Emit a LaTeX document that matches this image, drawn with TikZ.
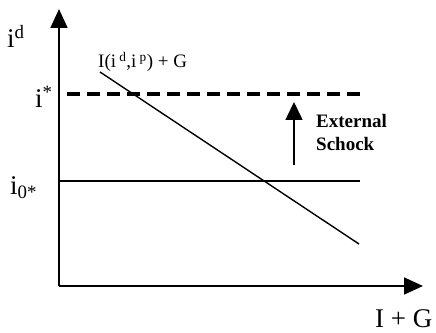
\documentclass[tikz,border=0pt]{standalone}
\usepackage{fontspec}
\setmainfont{Liberation Serif}
\usetikzlibrary{arrows.meta,positioning}

\begin{document}
\begin{tikzpicture}[x=1pt,y=1pt,
  axis/.style={line width=1.8pt,-{Triangle[length=19pt,width=17pt]}},
  curve/.style={line width=1.4pt},
  lbl/.style={inner sep=0pt,anchor=base west,font=\fontsize{27}{30}\selectfont}]
  \useasboundingbox (0,0) rectangle (436,332);
  \coordinate (O) at (59,46);
  \coordinate (ytop) at (59,323);
  \coordinate (xend) at (423,46);
  \draw[axis] (O) -- (ytop);
  \draw[axis] (O) -- (xend);
  \coordinate (star0) at (67,238);
  \coordinate (star1) at (360,238);
  \draw[line width=4pt,dash pattern=on 13pt off 7pt] (star0) -- (star1);
  \coordinate (low0) at (59,151);
  \coordinate (low1) at (360,151);
  \draw[curve] (low0) -- (low1);
  \coordinate (is0) at (100,260);
  \coordinate (is1) at (359,88);
  \draw[curve] (is0) -- (is1);
  \coordinate (sh0) at (294,167);
  \coordinate (sh1) at (294,230);
  \draw[line width=1.6pt,-{Triangle[length=18pt,width=17pt]}] (sh0) -- (sh1);
  \node[inner sep=0pt,anchor=north west,align=left,font=\bfseries\fontsize{19}{23}\selectfont] (shock) at (316,218) {External\\Schock};
  \node[lbl] (iD) at (7,284) {i\textsuperscript{d}};
  \node[lbl] (iStar) at (35,224) {i\textsuperscript{*}};
  \node[lbl] (iZero) at (10,137) {i\textsubscript{0*}};
  \node[lbl,font=\fontsize{19}{23}\selectfont] (isLbl) at (98,264) {I(i\,\textsuperscript{d},i\,\textsuperscript{p}) + G};
  \node[lbl] (xLbl) at (375,5) {I + G};
\end{tikzpicture}
\end{document}
